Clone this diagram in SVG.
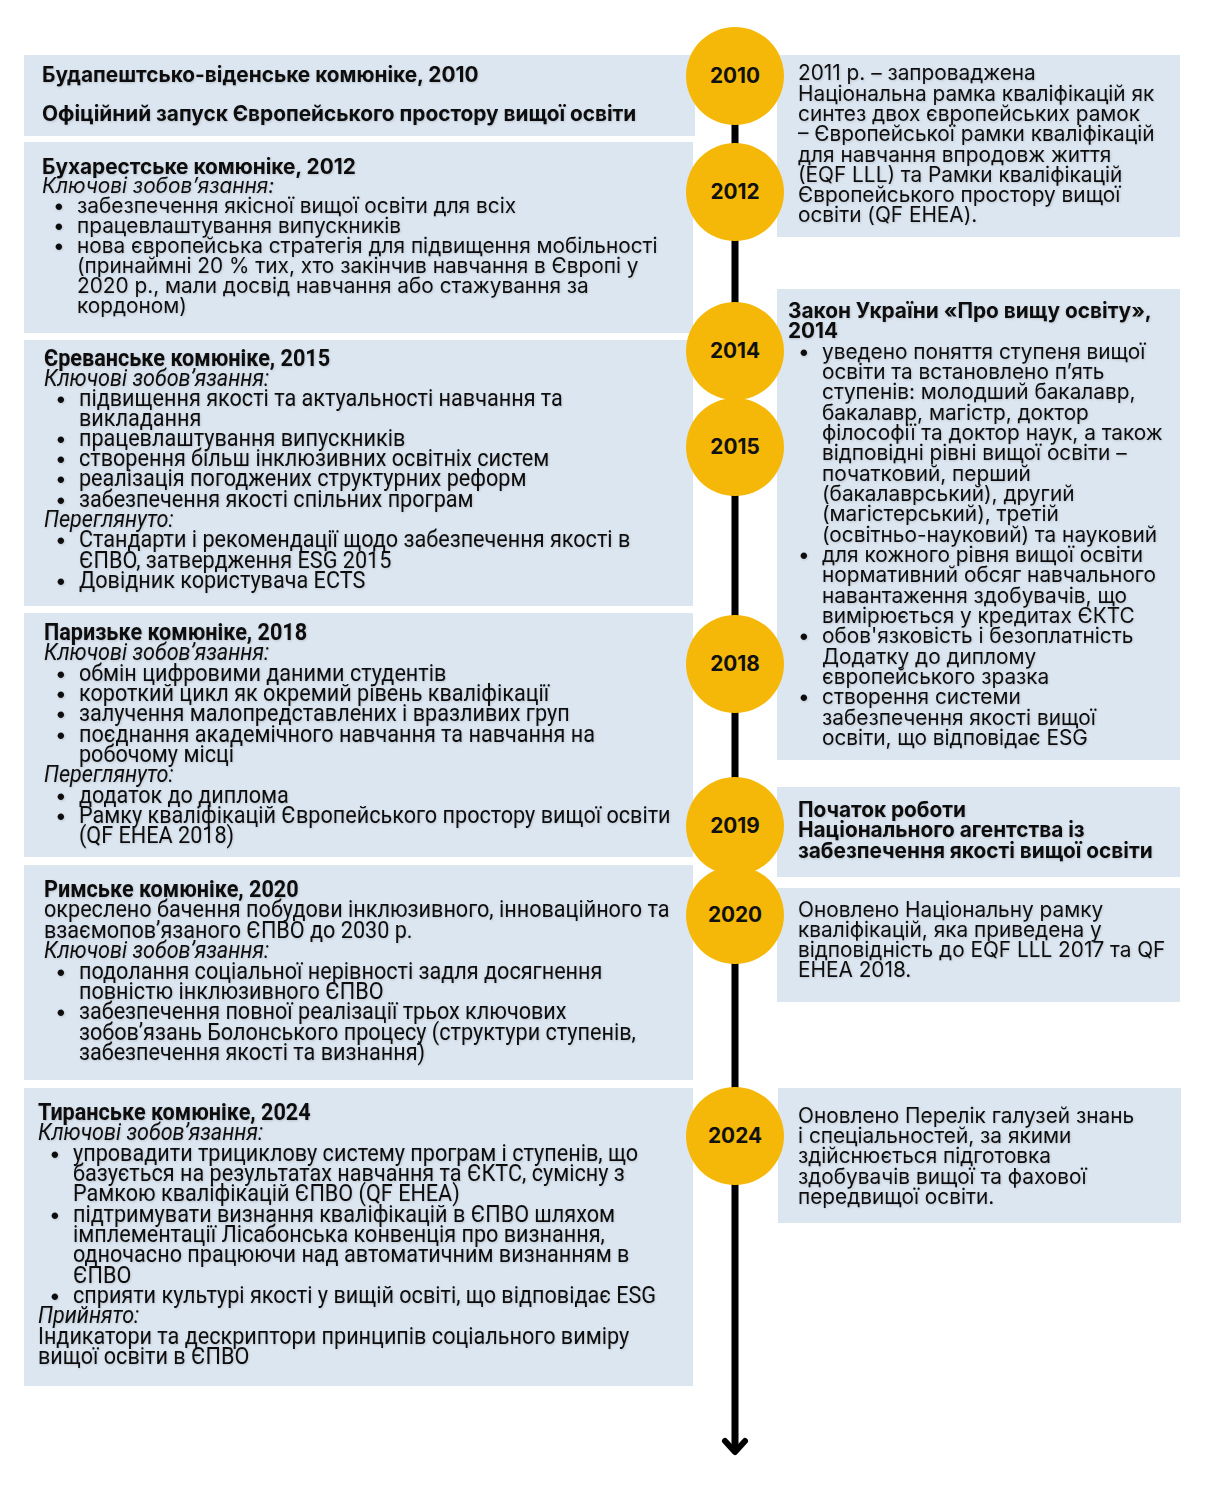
<svg xmlns="http://www.w3.org/2000/svg" width="1228" height="1486" viewBox="0 0 1228 1486">
<defs>
<style>
.box{fill:#DCE6F1}
.circ{fill:#F6B808}
.t{font-family:Inter,"Noto Sans",sans-serif;font-size:20.8px;fill:#111;filter:url(#sh)}
.b{font-weight:700}
.c{font-family:Roboto,"Noto Sans",sans-serif;font-size:23px;fill:#111;filter:url(#sh)}
.i{font-style:italic}
.yr{font-family:Inter,"Noto Sans",sans-serif;font-size:20.8px;font-weight:700;fill:#111;text-anchor:middle}
</style>
<filter id="sh" x="-5%" y="-30%" width="110%" height="160%">
<feDropShadow dx="0.8" dy="1" stdDeviation="1.2" flood-color="#000" flood-opacity="0.16"/>
</filter>
</defs>
<rect width="1228" height="1486" fill="#fff"/>
<g id="connectors">
<line x1="735" y1="100" x2="735" y2="1450" stroke="#000" stroke-width="7"/>
<polyline points="725,1441 735,1452 745,1441" fill="none" stroke="#000" stroke-width="6" stroke-linecap="round" stroke-linejoin="round"/>
</g>
<g id="box-2010">
<rect class="box" x="24" y="55" width="671" height="81"/>
<text class="t b" x="42" y="82">Будапештсько-віденське комюніке, 2010</text>
<text class="t b" x="42" y="121">Офіційний запуск Європейського простору вищої освіти</text>
</g>
<g id="box-2012">
<rect class="box" x="24" y="142" width="669" height="191"/>
<text class="t b" x="42" y="174">Бухарестське комюніке, 2012</text>
<text class="t i" x="42" y="193">Ключові зобов’язання:</text>
<text class="t" x="53" y="213">•</text><text class="t" x="77" y="213">забезпечення якісної вищої освіти для всіх</text>
<text class="t" x="53" y="233">•</text><text class="t" x="77" y="233">працевлаштування випускників</text>
<text class="t" x="53" y="253">•</text><text class="t" x="77" y="253">нова європейська стратегія для підвищення мобільності</text>
<text class="t" x="77" y="273">(принаймні 20 % тих, хто закінчив навчання в Європі у</text>
<text class="t" x="77" y="293">2020 р., мали досвід навчання або стажування за</text>
<text class="t" x="77" y="313">кордоном)</text>
</g>
<g id="box-2015">
<rect class="box" x="24" y="340" width="669" height="266"/>
<text class="t" x="55" y="406">•</text><text class="t" x="55" y="446">•</text><text class="t" x="55" y="466">•</text><text class="t" x="55" y="486">•</text><text class="t" x="55" y="507">•</text><text class="t" x="55" y="547">•</text><text class="t" x="55" y="588">•</text>
<g transform="matrix(0.94,0,0,1,2.64,0)">
<text class="c b" x="44" y="366">Єреванське комюніке, 2015</text>
<text class="c i" x="44" y="386">Ключові зобов’язання:</text>
<text class="c" x="81.2" y="406">підвищення якості та актуальності навчання та</text>
<text class="c" x="81.2" y="426">викладання</text>
<text class="c" x="81.2" y="446">працевлаштування випускників</text>
<text class="c" x="81.2" y="466">створення більш інклюзивних освітніх систем</text>
<text class="c" x="81.2" y="486">реалізація погоджених структурних реформ</text>
<text class="c" x="81.2" y="507">забезпечення якості спільних програм</text>
<text class="c i" x="44" y="527">Переглянуто:</text>
<text class="c" x="81.2" y="547">Стандарти і рекомендації щодо забезпечення якості в</text>
<text class="c" x="81.2" y="568">ЄПВО, затвердження ESG 2015</text>
<text class="c" x="81.2" y="588">Довідник користувача ECTS</text>
</g>
</g>
<g id="box-2018">
<rect class="box" x="24" y="613" width="669" height="244"/>
<text class="t" x="55" y="681">•</text><text class="t" x="55" y="701">•</text><text class="t" x="55" y="721">•</text><text class="t" x="55" y="742">•</text><text class="t" x="55" y="803">•</text><text class="t" x="55" y="823">•</text>
<g transform="matrix(0.94,0,0,1,2.64,0)">
<text class="c b" x="44" y="640">Паризьке комюніке, 2018</text>
<text class="c i" x="44" y="660">Ключові зобов’язання:</text>
<text class="c" x="81.2" y="681">обмін цифровими даними студентів</text>
<text class="c" x="81.2" y="701">короткий цикл як окремий рівень кваліфікації</text>
<text class="c" x="81.2" y="721">залучення малопредставлених і вразливих груп</text>
<text class="c" x="81.2" y="742">поєднання академічного навчання та навчання на</text>
<text class="c" x="81.2" y="762">робочому місці</text>
<text class="c i" x="44" y="782">Переглянуто:</text>
<text class="c" x="81.2" y="803">додаток до диплома</text>
<text class="c" x="81.2" y="823">Рамку кваліфікацій Європейського простору вищої освіти</text>
<text class="c" x="81.2" y="843">(QF EHEA 2018)</text>
</g>
</g>
<g id="box-2020">
<rect class="box" x="24" y="865" width="669" height="215"/>
<text class="t" x="55" y="979">•</text><text class="t" x="55" y="1019">•</text>
<g transform="matrix(0.94,0,0,1,2.64,0)">
<text class="c b" x="44" y="897">Римське комюніке, 2020</text>
<text class="c" x="44" y="917">окреслено бачення побудови інклюзивного, інноваційного та</text>
<text class="c" x="44" y="938">взаємопов’язаного ЄПВО до 2030 р.</text>
<text class="c i" x="44" y="958">Ключові зобов’язання:</text>
<text class="c" x="81.2" y="979">подолання соціальної нерівності задля досягнення</text>
<text class="c" x="81.2" y="999">повністю інклюзивного ЄПВО</text>
<text class="c" x="81.2" y="1019">забезпечення повної реалізації трьох ключових</text>
<text class="c" x="81.2" y="1040">зобов’язань Болонського процесу (структури ступенів,</text>
<text class="c" x="81.2" y="1060">забезпечення якості та визнання)</text>
</g>
</g>
<g id="box-2024">
<rect class="box" x="24" y="1088" width="669" height="298"/>
<text class="t" x="49" y="1161">•</text><text class="t" x="49" y="1222">•</text><text class="t" x="49" y="1303">•</text>
<g transform="matrix(0.94,0,0,1,2.28,0)">
<text class="c b" x="38" y="1120">Тиранське комюніке, 2024</text>
<text class="c i" x="38" y="1140">Ключові зобов’язання:</text>
<text class="c" x="75.2" y="1161">упровадити трициклову систему програм і ступенів, що</text>
<text class="c" x="75.2" y="1181">базується на результатах навчання та ЄКТС, сумісну з</text>
<text class="c" x="75.2" y="1201">Рамкою кваліфікацій ЄПВО (QF EHEA)</text>
<text class="c" x="75.2" y="1222">підтримувати визнання кваліфікацій в ЄПВО шляхом</text>
<text class="c" x="75.2" y="1242">імплементації Лісабонська конвенція про визнання,</text>
<text class="c" x="75.2" y="1262">одночасно працюючи над автоматичним визнанням в</text>
<text class="c" x="75.2" y="1283">ЄПВО</text>
<text class="c" x="75.2" y="1303">сприяти культурі якості у вищій освіті, що відповідає ESG</text>
<text class="c i" x="38" y="1323">Прийнято:</text>
<text class="c" x="38" y="1344">Індикатори та дескриптори принципів соціального виміру</text>
<text class="c" x="38" y="1364">вищої освіти в ЄПВО</text>
</g>
</g>
<g id="box-2011-nrk">
<rect class="box" x="777" y="55" width="403" height="182"/>
<text class="t" x="798" y="80">2011 р. – запроваджена</text>
<text class="t" x="798" y="101">Національна рамка кваліфікацій як</text>
<text class="t" x="798" y="121">синтез двох європейських рамок</text>
<text class="t" x="798" y="141">– Європейської рамки кваліфікацій</text>
<text class="t" x="798" y="162">для навчання впродовж життя</text>
<text class="t" x="798" y="182">(EQF LLL) та Рамки кваліфікацій</text>
<text class="t" x="798" y="202">Європейського простору вищої</text>
<text class="t" x="798" y="222">освіти (QF EHEA).</text>
</g>
<g id="box-2014-law">
<rect class="box" x="777" y="289" width="403" height="471"/>
<text class="t b" x="788" y="318">Закон України «Про вищу освіту»,</text>
<text class="t b" x="788" y="338">2014</text>
<text class="t" x="798" y="359">•</text><text class="t" x="822" y="359">уведено поняття ступеня вищої</text>
<text class="t" x="822" y="379">освіти та встановлено п’ять</text>
<text class="t" x="822" y="399">ступенів: молодший бакалавр,</text>
<text class="t" x="822" y="420">бакалавр, магістр, доктор</text>
<text class="t" x="822" y="440">філософії та доктор наук, а також</text>
<text class="t" x="822" y="460">відповідні рівні вищої освіти –</text>
<text class="t" x="822" y="481">початковий, перший</text>
<text class="t" x="822" y="501">(бакалаврський), другий</text>
<text class="t" x="822" y="521">(магістерський), третій</text>
<text class="t" x="822" y="542">(освітньо-науковий) та науковий</text>
<text class="t" x="798" y="562">•</text><text class="t" x="822" y="562">для кожного рівня вищої освіти</text>
<text class="t" x="822" y="582">нормативний обсяг навчального</text>
<text class="t" x="822" y="603">навантаження здобувачів, що</text>
<text class="t" x="822" y="623">вимірюється у кредитах ЄКТС</text>
<text class="t" x="798" y="643">•</text><text class="t" x="822" y="643">обов'язковість і безоплатність</text>
<text class="t" x="822" y="664">Додатку до диплому</text>
<text class="t" x="822" y="684">європейського зразка</text>
<text class="t" x="798" y="704">•</text><text class="t" x="822" y="704">створення системи</text>
<text class="t" x="822" y="725">забезпечення якості вищої</text>
<text class="t" x="822" y="745">освіти, що відповідає ESG</text>
</g>
<g id="box-2019-agency">
<rect class="box" x="777" y="787" width="403" height="90"/>
<text class="t b" x="798" y="817">Початок роботи</text>
<text class="t b" x="798" y="837">Національного агентства із</text>
<text class="t b" x="798" y="858">забезпечення якості вищої освіти</text>
</g>
<g id="box-2020-nrk">
<rect class="box" x="777" y="888" width="403" height="114"/>
<text class="t" x="798" y="917">Оновлено Національну рамку</text>
<text class="t" x="798" y="937">кваліфікацій, яка приведена у</text>
<text class="t" x="798" y="957">відповідність до EQF LLL 2017 та QF</text>
<text class="t" x="798" y="977">EHEA 2018.</text>
</g>
<g id="box-2024-list">
<rect class="box" x="778" y="1088" width="403" height="135"/>
<text class="t" x="798" y="1123">Оновлено Перелік галузей знань</text>
<text class="t" x="798" y="1143">і спеціальностей, за якими</text>
<text class="t" x="798" y="1163">здійснюється підготовка</text>
<text class="t" x="798" y="1184">здобувачів вищої та фахової</text>
<text class="t" x="798" y="1204">передвищої освіти.</text>
</g>
<g id="year-2010"><circle class="circ" cx="735" cy="76" r="49"/><text class="yr" x="735" y="83">2010</text></g>
<g id="year-2012"><circle class="circ" cx="735" cy="192" r="49"/><text class="yr" x="735" y="199">2012</text></g>
<g id="year-2014"><circle class="circ" cx="735" cy="351" r="49"/><text class="yr" x="735" y="358">2014</text></g>
<g id="year-2015"><circle class="circ" cx="735" cy="447" r="49"/><text class="yr" x="735" y="454">2015</text></g>
<g id="year-2018"><circle class="circ" cx="735" cy="664" r="49"/><text class="yr" x="735" y="671">2018</text></g>
<g id="year-2019"><circle class="circ" cx="735" cy="826" r="49"/><text class="yr" x="735" y="833">2019</text></g>
<g id="year-2020"><circle class="circ" cx="735" cy="915" r="49"/><text class="yr" x="735" y="922">2020</text></g>
<g id="year-2024"><circle class="circ" cx="735" cy="1136" r="49"/><text class="yr" x="735" y="1143">2024</text></g>
</svg>
